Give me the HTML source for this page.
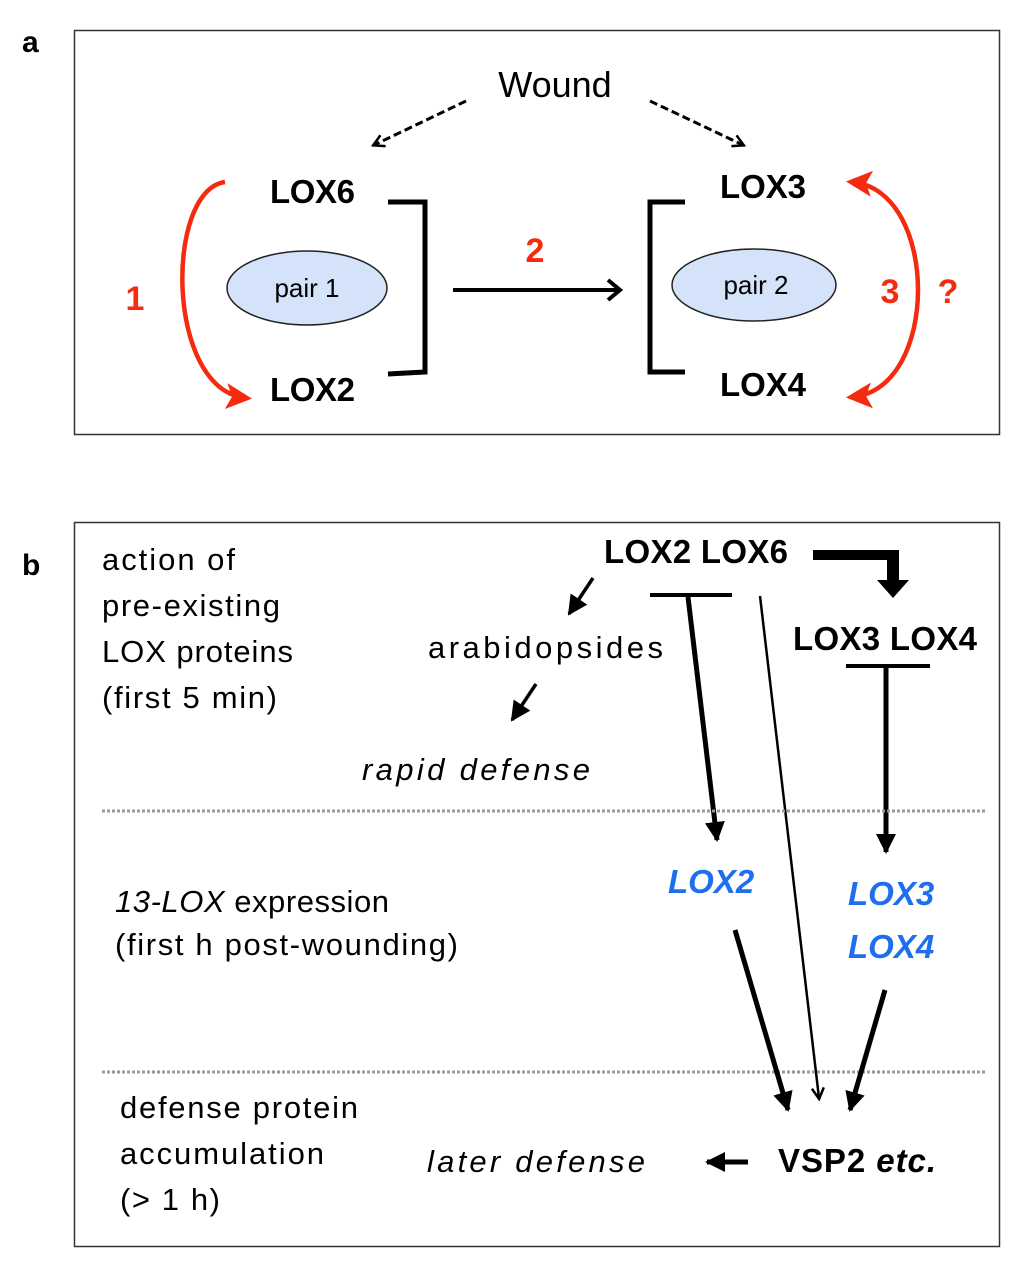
<!DOCTYPE html>
<html><head><style>body{margin:0;background:#fff}svg{display:block}</style></head><body>
<svg width="1024" height="1264" viewBox="0 0 1024 1264" xmlns="http://www.w3.org/2000/svg" font-family="Liberation Sans, sans-serif">
<defs>
<marker id="ah" markerWidth="14" markerHeight="14" refX="11" refY="7" orient="auto" markerUnits="userSpaceOnUse" viewBox="0 0 14 14"><path d="M1,1 L12,7 L1,13" fill="none" stroke="#000" stroke-width="2.5"/></marker>
<marker id="ao" markerWidth="24" markerHeight="24" refX="14" refY="12" orient="auto" markerUnits="userSpaceOnUse"><path d="M0,12 L6,12 M2,2 L14,12 L2,22" fill="none" stroke="#000" stroke-width="4"/></marker>
<marker id="af" markerWidth="22" markerHeight="22" refX="18" refY="11" orient="auto" markerUnits="userSpaceOnUse"><path d="M0,1 L20,11 L0,21 z" fill="#000"/></marker>
<marker id="ar" markerWidth="30" markerHeight="30" refX="20" refY="15" orient="auto-start-reverse" markerUnits="userSpaceOnUse"><path d="M0,2 L26,15 L0,28 L6,15 z" fill="#f52b10"/></marker>
</defs>
<rect x="74.5" y="30.5" width="925" height="404" fill="none" stroke="#333" stroke-width="1.5"/>
<rect x="74.5" y="522.5" width="925" height="724" fill="none" stroke="#333" stroke-width="1.5"/>
<text x="22" y="52" font-size="30" font-weight="bold">a</text>
<text x="22" y="575" font-size="30" font-weight="bold">b</text>
<text x="555" y="97" font-size="36" text-anchor="middle">Wound</text>
<line x1="466" y1="101" x2="374" y2="145" stroke="#000" stroke-width="3" stroke-dasharray="8,4" marker-end="url(#ah)"/>
<line x1="650" y1="101" x2="743" y2="145" stroke="#000" stroke-width="3" stroke-dasharray="8,4" marker-end="url(#ah)"/>
<g font-size="33" font-weight="bold">
<text x="270" y="203" textLength="85">LOX6</text><text x="270" y="401" textLength="85">LOX2</text>
<text x="720" y="198" textLength="86">LOX3</text><text x="720" y="396" textLength="86">LOX4</text>
</g>
<path d="M388,202 L425,202 L425,372 L388,374" fill="none" stroke="#000" stroke-width="5"/>
<path d="M685,202 L650,202 L650,372 L685,372" fill="none" stroke="#000" stroke-width="5"/>
<ellipse cx="307" cy="288" rx="80" ry="37" fill="#d4e3f9" stroke="#222" stroke-width="1.5"/>
<ellipse cx="754" cy="285" rx="82" ry="36" fill="#d4e3f9" stroke="#222" stroke-width="1.5"/>
<text x="307" y="297" font-size="26" text-anchor="middle">pair 1</text>
<text x="756" y="294" font-size="26" text-anchor="middle">pair 2</text>
<line x1="453" y1="290" x2="620" y2="290" stroke="#000" stroke-width="4" marker-end="url(#ao)"/>
<g fill="#f52b10" font-weight="bold" font-size="34">
<text x="535" y="262" text-anchor="middle">2</text>
<text x="135" y="310" text-anchor="middle">1</text>
<text x="890" y="303" text-anchor="middle">3</text>
<text x="948" y="303" text-anchor="middle">?</text>
</g>
<path d="M225,182 C165,190 165,390 246,398" fill="none" stroke="#f52b10" stroke-width="4.5" marker-end="url(#ar)"/>
<path d="M852,182 C940,190 940,390 852,397" fill="none" stroke="#f52b10" stroke-width="4.5" marker-start="url(#ar)" marker-end="url(#ar)"/>
<g font-size="31">
<text x="102" y="570" textLength="133">action of</text><text x="102" y="616" textLength="178">pre-existing</text>
<text x="102" y="662" textLength="191">LOX proteins</text><text x="102" y="708" textLength="175">(first 5 min)</text>
<text x="428" y="658" textLength="235">arabidopsides</text>
<text x="362" y="780" font-style="italic" textLength="228">rapid defense</text>
<text x="115" y="912" textLength="274"><tspan font-style="italic">13-LOX</tspan> expression</text>
<text x="115" y="955" textLength="343">(first h post-wounding)</text>
<text x="120" y="1118" textLength="238">defense protein</text><text x="120" y="1164" textLength="204">accumulation</text><text x="120" y="1210" textLength="100">(&gt; 1 h)</text>
<text x="427" y="1172" font-style="italic" textLength="218">later defense</text>
</g>
<g font-size="33" font-weight="bold">
<text x="604" y="563" textLength="184">LOX2 LOX6</text>
<text x="793" y="650" textLength="184">LOX3 LOX4</text>
<text x="778" y="1172" textLength="158">VSP2 <tspan font-style="italic">etc.</tspan></text>
</g>
<g font-size="33" font-weight="bold" font-style="italic" fill="#1e6ff0">
<text x="668" y="893">LOX2</text><text x="848" y="905">LOX3</text><text x="848" y="958">LOX4</text>
</g>
<path d="M813,550 L899,550 L899,580 L909,580 L893,598 L877,580 L887,580 L887,560 L813,560 z" fill="#000"/>
<line x1="593" y1="578" x2="569" y2="614" stroke="#000" stroke-width="3.5" marker-end="url(#af)"/>
<line x1="536" y1="684" x2="512" y2="720" stroke="#000" stroke-width="3.5" marker-end="url(#af)"/>
<line x1="650" y1="595" x2="732" y2="595" stroke="#000" stroke-width="4"/>
<line x1="688" y1="597" x2="717" y2="840" stroke="#000" stroke-width="5" marker-end="url(#af)"/>
<line x1="760" y1="596" x2="819" y2="1098" stroke="#000" stroke-width="2.5" marker-end="url(#ah)"/>
<line x1="846" y1="666" x2="930" y2="666" stroke="#000" stroke-width="4"/>
<line x1="886" y1="668" x2="886" y2="852" stroke="#000" stroke-width="5" marker-end="url(#af)"/>
<line x1="102" y1="811" x2="985" y2="811" stroke="#999" stroke-width="3" stroke-dasharray="3,2"/>
<line x1="102" y1="1072" x2="985" y2="1072" stroke="#999" stroke-width="3" stroke-dasharray="3,2"/>
<line x1="735" y1="930" x2="788" y2="1110" stroke="#000" stroke-width="5" marker-end="url(#af)"/>
<line x1="885" y1="990" x2="850" y2="1110" stroke="#000" stroke-width="5" marker-end="url(#af)"/>
<line x1="748" y1="1162" x2="707" y2="1162" stroke="#000" stroke-width="5" marker-end="url(#af)"/>
</svg>
</body></html>
